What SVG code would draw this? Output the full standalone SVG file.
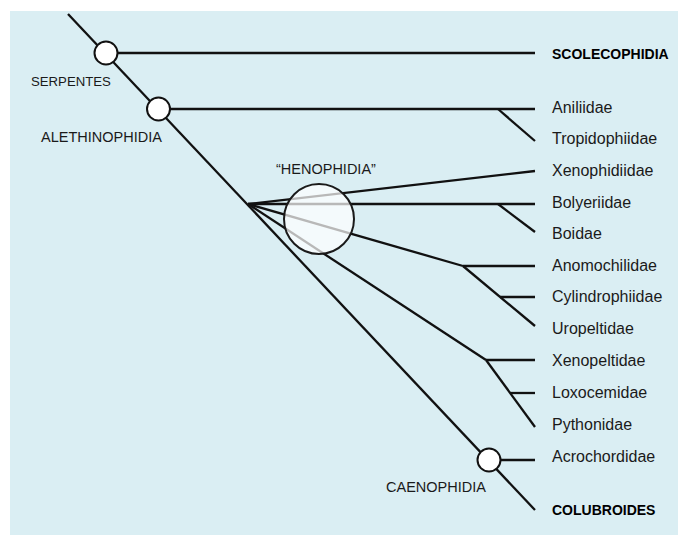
<svg xmlns="http://www.w3.org/2000/svg" width="678" height="535" viewBox="0 0 678 535">
<style>
.ln{stroke:#111;stroke-width:2.3;fill:none;stroke-linecap:butt}
.nd{fill:#fff;stroke:#111;stroke-width:2}
.t{font-family:"Liberation Sans",Arial,sans-serif;font-size:16px;fill:#1a1a1a}
.c{font-family:"Liberation Sans",Arial,sans-serif;font-size:14.5px;fill:#1a1a1a}
.b{font-family:"Liberation Sans",Arial,sans-serif;font-size:14px;font-weight:bold;fill:#000}
</style>
<rect x="0" y="0" width="678" height="535" fill="#fff"/>
<rect x="10" y="11" width="668" height="524" fill="#DAEEF3"/>
<g id="connectors">
<line class="ln" x1="68" y1="14" x2="535" y2="510"/>
<line class="ln" x1="106" y1="53" x2="535" y2="53"/>
<line class="ln" x1="158" y1="109" x2="535" y2="109"/>
<line class="ln" x1="498" y1="109" x2="535" y2="141"/>
<line class="ln" x1="248" y1="204" x2="535" y2="171"/>
<line class="ln" x1="248" y1="204" x2="535" y2="204"/>
<line class="ln" x1="498" y1="204" x2="535" y2="232"/>
<line class="ln" x1="248" y1="204" x2="463" y2="266"/>
<line class="ln" x1="463" y1="266" x2="535" y2="266"/>
<line class="ln" x1="463" y1="266" x2="535" y2="326"/>
<line class="ln" x1="500" y1="297" x2="535" y2="297"/>
<line class="ln" x1="248" y1="204" x2="486" y2="360"/>
<line class="ln" x1="486" y1="360" x2="535" y2="360"/>
<line class="ln" x1="486" y1="360" x2="535" y2="427"/>
<line class="ln" x1="510" y1="393" x2="535" y2="393"/>
<line class="ln" x1="489" y1="460" x2="535" y2="460"/>
</g>
<g id="serpentes"><circle class="nd" cx="106" cy="53" r="11.5"/><text class="c" x="31" y="86" style="font-size:13.2px">SERPENTES</text></g>
<g id="alethinophidia"><circle class="nd" cx="158.5" cy="109" r="11.5"/><text class="c" x="41" y="142">ALETHINOPHIDIA</text></g>
<g id="henophidia"><circle cx="319" cy="219" r="35" fill="#fff" fill-opacity="0.7" stroke="#1a1a1a" stroke-width="2"/><text class="c" x="276" y="174">“HENOPHIDIA”</text></g>
<g id="caenophidia"><circle class="nd" cx="489" cy="460" r="11.5"/><text class="c" x="386" y="492">CAENOPHIDIA</text></g>
<g id="scolecophidia"><text class="b" x="552" y="59">SCOLECOPHIDIA</text></g>
<g id="aniliidae"><text class="t" x="552" y="113">Aniliidae</text></g>
<g id="tropidophiidae"><text class="t" x="552" y="144">Tropidophiidae</text></g>
<g id="xenophidiidae"><text class="t" x="552" y="176">Xenophidiidae</text></g>
<g id="bolyeriidae"><text class="t" x="552" y="208">Bolyeriidae</text></g>
<g id="boidae"><text class="t" x="552" y="239">Boidae</text></g>
<g id="anomochilidae"><text class="t" x="552" y="271">Anomochilidae</text></g>
<g id="cylindrophiidae"><text class="t" x="552" y="302">Cylindrophiidae</text></g>
<g id="uropeltidae"><text class="t" x="552" y="334">Uropeltidae</text></g>
<g id="xenopeltidae"><text class="t" x="552" y="366">Xenopeltidae</text></g>
<g id="loxocemidae"><text class="t" x="552" y="398">Loxocemidae</text></g>
<g id="pythonidae"><text class="t" x="552" y="430">Pythonidae</text></g>
<g id="acrochordidae"><text class="t" x="552" y="462">Acrochordidae</text></g>
<g id="colubroides"><text class="b" x="552" y="515">COLUBROIDES</text></g>
</svg>
